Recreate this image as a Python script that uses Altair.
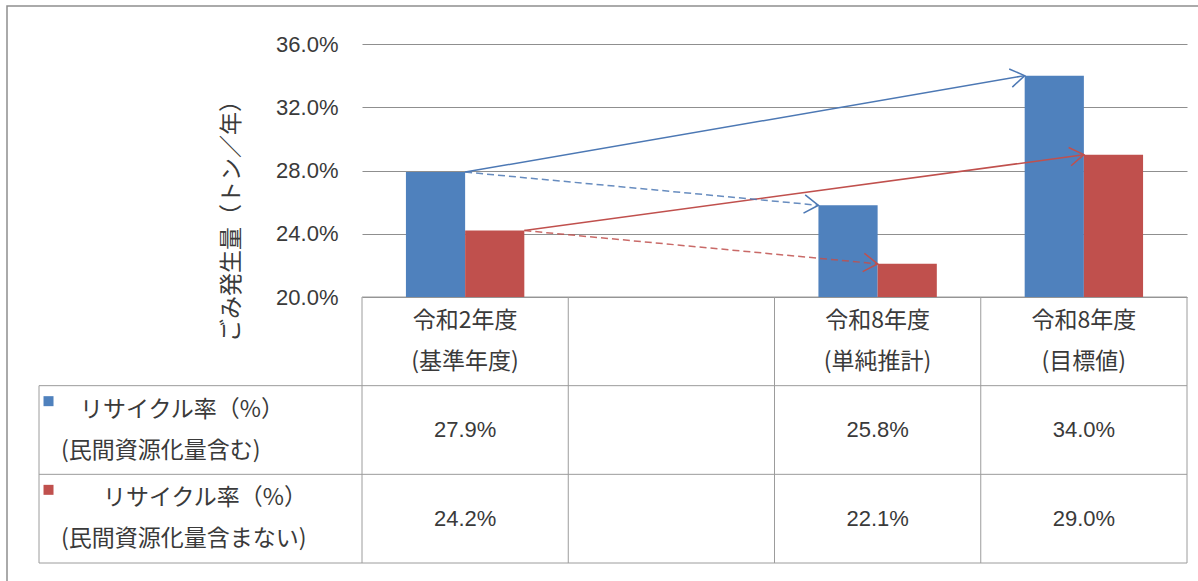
import math

import altair as alt
import pandas as pd

# ---- data -----------------------------------------------------------------
# table columns (the second column is an empty spacer)
categories = ["令和2年度\n(基準年度)", "", "令和8年度\n(単純推計)", "令和8年度\n(目標値)"]
series = ["　リサイクル率（%）\n(民間資源化量含む)", "　　リサイクル率（%）\n(民間資源化量含まない)"]
rate_incl = [27.9, None, 25.8, 34.0]
rate_excl = [24.2, None, 22.1, 29.0]
series_colors = ["#4F81BD", "#C0504D"]
arrow_colors = ["#4C78B4", "#C0504D"]
y_ticks = [20.0, 24.0, 28.0, 32.0, 36.0]
y_title = "ごみ発生量（トン／年）"
# arrows between bar tops: (from column, to column, dashed)
arrow_links = [(0, 3, False), (0, 2, True)]

# ---- layout ---------------------------------------------------------------
W, H = 825, 253            # plot area
TABLE_H = 266              # data table below the plot (3 rows)
LEG_W = 1.566              # legend column width, in column units
BAR_W = 0.287              # bar width, in column units
LINE_GAP = 20.5            # half distance between two text lines in a cell (px)
PAD = {"left": 362, "top": 44, "right": 11, "bottom": 284}
CJK = "Noto Sans CJK JP"
LAT = "Liberation Sans"
FS_CJK = 23
FS_NUM = 22
TXT = "#3a3a3a"
GRID = "#8f8f8f"
LINE = "#9c9c9c"

values = [rate_incl, rate_excl]
ncol = len(categories)
ymin, ymax = y_ticks[0], y_ticks[-1]
px_x = W / ncol
px_y = H / (ymax - ymin)


def bar_left(i, s):
    return i + 0.5 - BAR_W + s * BAR_W


def table_y(row, dpx=0.0):
    """y value of a table row position (0 = table top) shifted by dpx pixels."""
    return ymin - (row * TABLE_H / 3 + dpx) / px_y


bars = []
for s, vals in enumerate(values):
    for i, v in enumerate(vals):
        if v is None:
            continue
        bars.append({"series": series[s], "x0": bar_left(i, s),
                     "x1": bar_left(i, s) + BAR_W, "v": v, "base": ymin})
bars = pd.DataFrame(bars)

arrows = []
for s, vals in enumerate(values):
    for a, b, dashed in arrow_links:
        xa, ya = bar_left(a, s) + BAR_W, vals[a]
        xb, yb = bar_left(b, s), vals[b]
        ang = math.degrees(math.atan2(-(yb - ya) * px_y, (xb - xa) * px_x)) % 360
        arrows.append({"xa": xa, "ya": ya, "xb": xb, "yb": yb, "ang": ang,
                       "col": arrow_colors[s], "dashed": dashed})
arrows = pd.DataFrame(arrows)

# table grid lines
tlines = [{"x": 0, "x2": ncol, "y": table_y(0), "y2": table_y(0)}]
for r in (1, 2, 3):
    tlines.append({"x": -LEG_W, "x2": ncol, "y": table_y(r), "y2": table_y(r)})
tlines.append({"x": -LEG_W, "x2": -LEG_W, "y": table_y(1), "y2": table_y(3)})
for c in range(ncol + 1):
    tlines.append({"x": c, "x2": c, "y": table_y(0), "y2": table_y(3)})
tlines = pd.DataFrame(tlines)

# column headers, one text item per line
headers = []
for i, c in enumerate(categories):
    lines = c.split("\n") if c else []
    for k, ln in enumerate(lines):
        dpx = (k - (len(lines) - 1) / 2) * 2 * LINE_GAP
        headers.append({"x": i + 0.5, "y": table_y(0.5, dpx), "t": ln})
headers = pd.DataFrame(headers)

cells = pd.DataFrame([{"x": i + 0.5, "y": table_y(1.5 + s), "t": f"{v:.1f}%"}
                      for s, vals in enumerate(values)
                      for i, v in enumerate(vals) if v is not None])

# row labels: leading ideographic spaces become an indent
labels = []
for s, name in enumerate(series):
    lines = name.split("\n")
    for k, ln in enumerate(lines):
        indent = len(ln) - len(ln.lstrip("\u3000"))
        indent_px = indent * FS_CJK - 4 if indent else 0
        dpx = (k - (len(lines) - 1) / 2) * 2 * LINE_GAP
        labels.append({"x": -LEG_W + (22 + indent_px) / px_x,
                       "y": table_y(1.5 + s, dpx), "t": ln.lstrip("\u3000")})
labels = pd.DataFrame(labels)

swatches = pd.DataFrame([{"x": -LEG_W + 9.5 / px_x, "y": table_y(1 + s, 15.5),
                          "series": n} for s, n in enumerate(series)])

# ---- scales / axis --------------------------------------------------------
xs = alt.Scale(domain=[0, ncol], nice=False, zero=False)
ys = alt.Scale(domain=[ymin, ymax], nice=False, zero=False)
cs = alt.Scale(domain=series, range=series_colors)

yaxis = alt.Axis(
    values=y_ticks, labelExpr="format(datum.value, '.1f') + '%'",
    grid=True, gridColor=GRID, gridWidth=1, domain=False, ticks=False,
    labelPadding=24, labelFont=LAT, labelFontSize=FS_NUM, labelColor=TXT,
    title=y_title, titleFont=CJK, titleFontSize=FS_CJK, titleFontWeight="normal",
    titleColor=TXT, titleAngle=270, titleX=-131, titleY=171,
    titleAlign="center", titleBaseline="middle",
)


def X(field):
    return alt.X(field, scale=xs, axis=None)


def Y(field):
    return alt.Y(field, scale=ys, axis=yaxis)


# ---- plot layers ----------------------------------------------------------
bar_layer = alt.Chart(bars).mark_rect().encode(
    x=X("x0:Q"), x2="x1:Q", y=Y("v:Q"), y2="base:Q",
    color=alt.Color("series:N", scale=cs, legend=None),
)


def arrow_rules(dashed):
    mark = dict(strokeWidth=1.5)
    if dashed:
        mark["strokeDash"] = [7, 4]
        mark["opacity"] = 0.85
    return alt.Chart(arrows[arrows["dashed"] == dashed]).mark_rule(**mark).encode(
        x=X("xa:Q"), x2="xb:Q", y=Y("ya:Q"), y2="yb:Q",
        color=alt.Color("col:N", scale=None),
    )


CHEVRON = "M -1 -0.65 L 0 0 L -1 0.65"
heads = alt.Chart(arrows).mark_point(
    shape=CHEVRON, filled=False, size=800, strokeWidth=1.5, opacity=1
).encode(
    x=X("xb:Q"), y=Y("yb:Q"),
    angle=alt.Angle("ang:Q", scale=None),
    color=alt.Color("col:N", scale=None),
)

# ---- data table -----------------------------------------------------------
grid_layer = alt.Chart(tlines).mark_rule(color=LINE, strokeWidth=1).encode(
    x=X("x:Q"), x2="x2:Q", y=Y("y:Q"), y2="y2:Q",
)
header_layer = alt.Chart(headers).mark_text(
    font=CJK, fontSize=FS_CJK, align="center", baseline="middle", color=TXT,
).encode(x=X("x:Q"), y=Y("y:Q"), text="t:N")
cell_layer = alt.Chart(cells).mark_text(
    font=LAT, fontSize=FS_NUM, align="center", baseline="middle", color=TXT,
).encode(x=X("x:Q"), y=Y("y:Q"), text="t:N")
label_layer = alt.Chart(labels).mark_text(
    font=CJK, fontSize=FS_CJK, align="left", baseline="middle", color=TXT,
).encode(x=X("x:Q"), y=Y("y:Q"), text="t:N")
swatch_layer = alt.Chart(swatches).mark_point(
    shape="square", filled=True, size=100, opacity=1,
).encode(x=X("x:Q"), y=Y("y:Q"),
         color=alt.Color("series:N", scale=cs, legend=None))

# outer chart frame
frame = alt.Chart(pd.DataFrame({"k": [0]})).mark_rect(
    fillOpacity=0, stroke="#8e8e8e", strokeWidth=1.5
).encode(
    x=alt.value(7 - PAD["left"]), x2=alt.value(W + PAD["right"] + 20),
    y=alt.value(6 - PAD["top"]), y2=alt.value(H + PAD["bottom"] + 20),
)

chart = (
    alt.layer(frame, grid_layer, bar_layer, arrow_rules(False), arrow_rules(True),
              heads, header_layer, cell_layer, label_layer, swatch_layer)
    .properties(width=W, height=H, padding=PAD,
                autosize=alt.AutoSizeParams(type="none"), background="white")
    .configure_view(stroke=None)
)

chart.save("out.html", embed_options={"renderer": "svg", "actions": False})
